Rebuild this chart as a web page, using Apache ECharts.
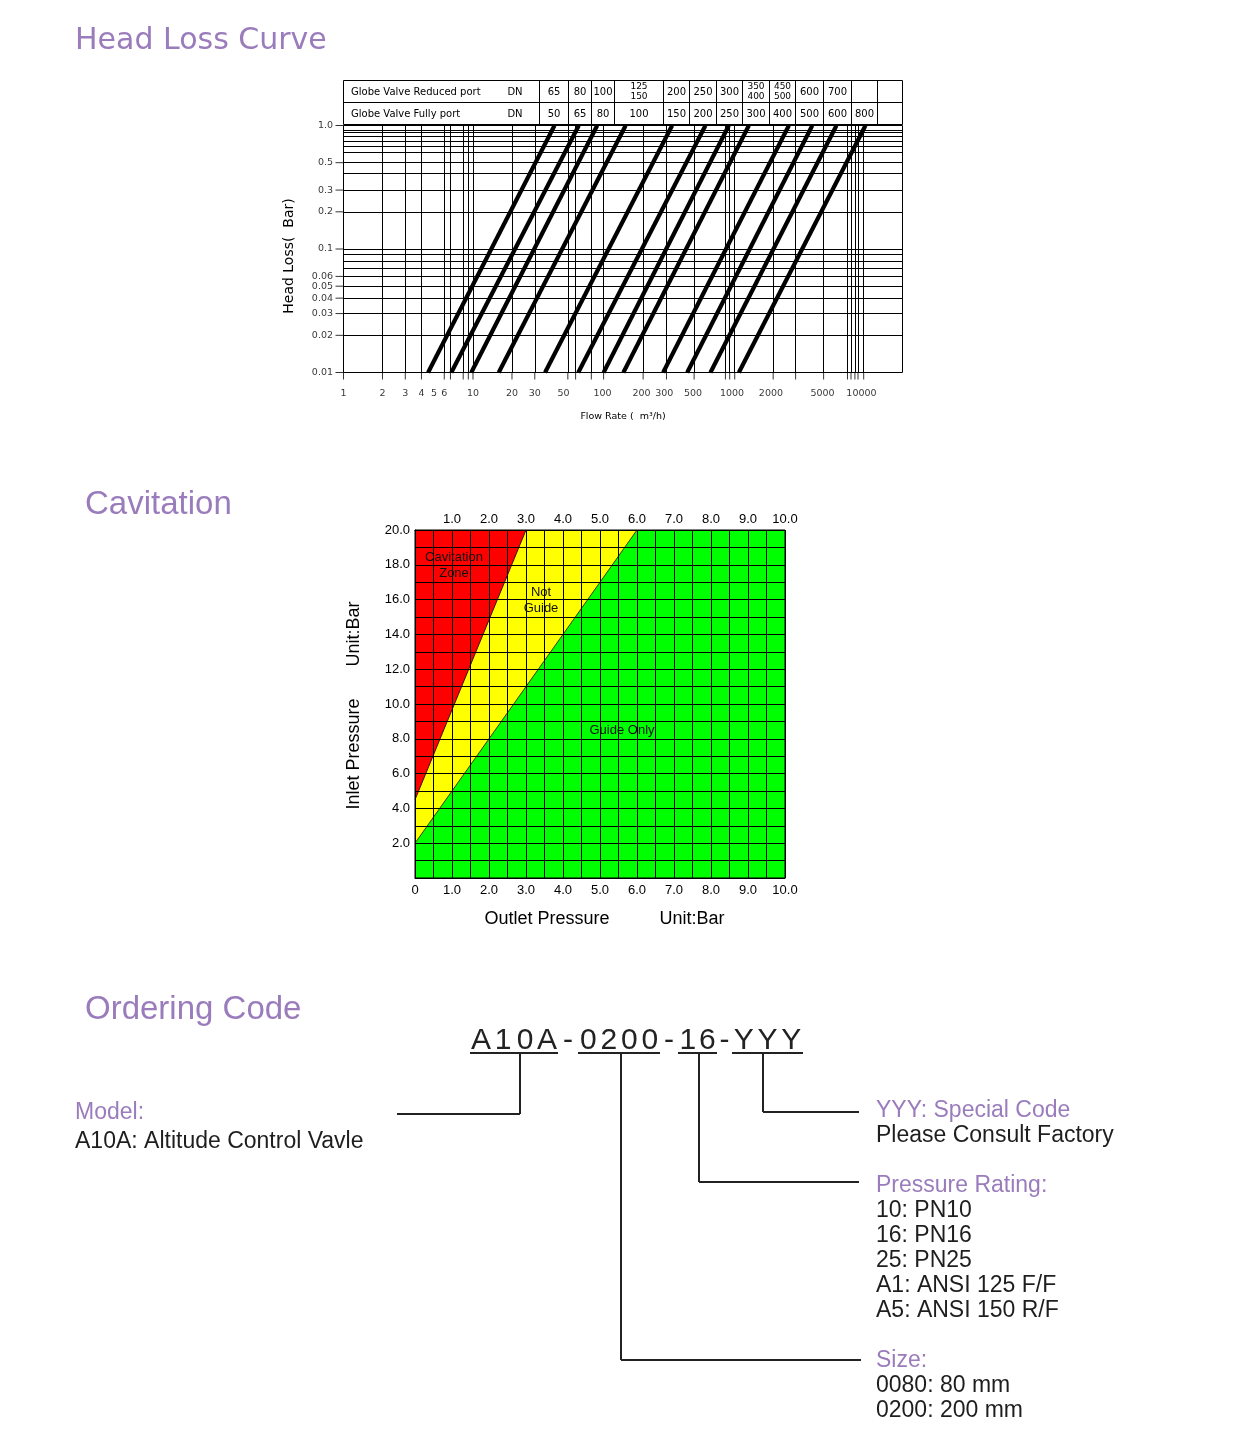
<!DOCTYPE html>
<html>
<head>
<meta charset="utf-8">
<title>Head Loss Curve / Cavitation / Ordering Code</title>
<script src="https://cdn.jsdelivr.net/npm/echarts@6/dist/echarts.min.js"></script>
<style>
  html, body { margin: 0; padding: 0; background: #fff; }
  #page { width: 1241px; height: 1448px; }
</style>
</head>
<body>
<div id="page"></div>
<script>
// ---------- head loss curve ----------
// flow (m3/h) where each valve line meets 0.01 bar and 1.0 bar
const lineFlowLow = [4.5, 6.8, 9.7, 15.8, 36, 65, 102, 145, 294, 451, 682, 1130];
const lineFlowHigh = [42.6, 65.6, 91, 151, 345, 624, 945, 1350, 2750, 4170, 6410, 10740];
const lossLow = 0.01;
const lossHigh = 1.0;

const flowTicks = [1, 2, 3, 4, 5, 6, 10, 20, 30, 50, 100, 200, 300, 500, 1000, 2000, 5000, 10000];
const flowTickLabels = ['1', '2', '3', '4', '5', '6', '10', '20', '30', '50', '100', '200', '300', '500', '1000', '2000', '5000', '10000'];
const lossTicks = [1, 0.5, 0.3, 0.2, 0.1, 0.06, 0.05, 0.04, 0.03, 0.02, 0.01];
const lossTickLabels = ['1.0', '0.5', '0.3', '0.2', '0.1', '0.06', '0.05', '0.04', '0.03', '0.02', '0.01'];

// grid lines as printed on the sheet
const flowGrid = [2, 3, 4, 6, 6.7, 8.4, 9.2, 10, 20, 30, 54, 62, 82, 102, 206, 312, 510, 890, 960, 1050, 2080, 3100, 5100, 7800, 8300, 8900, 9400, 10400];
const lossGrid = [0.92, 0.88, 0.82, 0.75, 0.68, 0.61, 0.5, 0.41, 0.3, 0.2, 0.1, 0.09, 0.083, 0.067, 0.06, 0.05, 0.04, 0.03, 0.02];

const reducedPortDN = ['65', '80', '100', '125\n150', '200', '250', '300', '350\n400', '450\n500', '600', '700', '', ''];
const fullPortDN = ['50', '65', '80', '100', '150', '200', '250', '300', '400', '500', '600', '800', ''];

// ---------- cavitation ----------
const cavitationEdge = [[0, 4.5], [3, 20]];
const notGuideEdge = [[0, 2], [6, 20]];

// ---------- ordering code ----------
const codeParts = ['A10A', '0200', '16', 'YYY'];
const modelLines = ['Model:', 'A10A: Altitude Control Vavle'];
const specialLines = ['YYY: Special Code', 'Please Consult Factory'];
const pressureLines = ['Pressure Rating:', '10: PN10', '16: PN16', '25: PN25', 'A1: ANSI 125 F/F', 'A5: ANSI 150 R/F'];
const sizeLines = ['Size:', '0080: 80 mm', '0200: 200 mm'];

const purple = '#9a7cbc';
const dark = '#1e1e1e';
const dejavu = 'DejaVu Sans, Verdana, sans-serif';
const arial = 'Liberation Sans, Arial, sans-serif';

const chart = echarts.init(document.getElementById('page'));

function txt(x, y, text, o) {
    o = o || {};
    return {
        type: 'text',
        x: x,
        y: y,
        z: 100,
        rotation: o.rotation || 0,
        silent: true,
        style: {
            text: text,
            fill: o.color || dark,
            font: (o.weight || 'normal') + ' ' + (o.size || 12) + 'px ' + (o.family || arial),
            align: o.align || 'left',
            verticalAlign: 'middle',
            lineHeight: o.lineHeight
        }
    };
}
let strokeColor = '#000';
function seg(x1, y1, x2, y2, w) {
    return {
        type: 'line',
        silent: true,
        z: 100,
        shape: { x1: x1, y1: y1, x2: x2, y2: y2 },
        style: { stroke: strokeColor, lineWidth: w || 1 }
    };
}

const graphics = [];

// section titles
graphics.push(txt(75, 41, 'Head Loss Curve', { size: 30, family: dejavu, color: purple }));
graphics.push(txt(85, 505, 'Cavitation', { size: 33, color: purple }));
graphics.push(txt(85, 1010, 'Ordering Code', { size: 33, color: purple }));

// DN table above the head loss chart
const tableCols = [539, 568, 591, 614, 663, 689, 716, 742, 769, 795, 823, 851, 877];
const tTop = 80.5, tMid = 102.5, tBot = 124.5, tLeft = 343.5, tRight = 902.5;
graphics.push({
    type: 'rect', silent: true, z: 100,
    shape: { x: tLeft, y: tTop, width: tRight - tLeft, height: tBot - tTop },
    style: { fill: null, stroke: '#000', lineWidth: 1 }
});
graphics.push(seg(tLeft, tMid, tRight, tMid));
tableCols.forEach(function (c) {
    graphics.push(seg(c + 0.5, tTop, c + 0.5, tBot));
});
graphics.push(txt(351, 92, 'Globe Valve Reduced port', { size: 10, family: dejavu, color: '#000' }));
graphics.push(txt(351, 114, 'Globe Valve Fully port', { size: 10, family: dejavu, color: '#000' }));
graphics.push(txt(515, 92, 'DN', { size: 10, family: dejavu, color: '#000', align: 'center' }));
graphics.push(txt(515, 114, 'DN', { size: 10, family: dejavu, color: '#000', align: 'center' }));
const colEdges = tableCols.concat([902]);
for (let i = 0; i < reducedPortDN.length; i++) {
    const cx = (colEdges[i] + colEdges[i + 1]) / 2 + 0.5;
    const two = reducedPortDN[i].indexOf('\n') >= 0;
    graphics.push(txt(cx, 92, reducedPortDN[i], {
        size: two ? 9 : 10, family: dejavu, color: '#000', align: 'center', lineHeight: 10
    }));
    graphics.push(txt(cx, 114, fullPortDN[i], { size: 10, family: dejavu, color: '#000', align: 'center' }));
}
// head loss axis titles
graphics.push(txt(289, 256, 'Head Loss(  Bar)', { size: 14, family: dejavu, color: '#000', align: 'center', rotation: Math.PI / 2 }));
graphics.push(txt(623, 417, 'Flow Rate (  m\u00b3/h)', { size: 9.5, family: dejavu, color: '#000', align: 'center' }));

// cavitation texts
graphics.push(txt(454, 565, 'Cavitation\nZone', { size: 13, color: '#111', align: 'center', lineHeight: 16 }));
graphics.push(txt(541, 600, 'Not\nGuide', { size: 13, color: '#111', align: 'center', lineHeight: 16 }));
graphics.push(txt(622, 730, 'Guide Only', { size: 13, color: '#111', align: 'center' }));
graphics.push(txt(354, 754, 'Inlet Pressure', { size: 18, color: '#000', align: 'center', rotation: Math.PI / 2 }));
graphics.push(txt(354, 634, 'Unit:Bar', { size: 18, color: '#000', align: 'center', rotation: Math.PI / 2 }));
graphics.push(txt(547, 919, 'Outlet Pressure', { size: 18, color: '#000', align: 'center' }));
graphics.push(txt(692, 919, 'Unit:Bar', { size: 18, color: '#000', align: 'center' }));

// ordering code string, characters spread like the print
strokeColor = '#222';
const partLeft = [470, 578, 678, 732];
const partRight = [558, 660, 717, 803];
const codeY = 1041, lineY = 1053;
codeParts.forEach(function (p, i) {
    const w = (partRight[i] - partLeft[i]) / p.length;
    for (let k = 0; k < p.length; k++) {
        graphics.push(txt(partLeft[i] + (k + 0.5) * w, codeY, p[k], { size: 30, color: '#222', align: 'center' }));
    }
    graphics.push(seg(partLeft[i], lineY, partRight[i], lineY, 2));
    if (i < codeParts.length - 1) {
        graphics.push(txt((partRight[i] + partLeft[i + 1]) / 2, codeY, '-', { size: 30, color: '#222', align: 'center' }));
    }
});
// connectors: down from each part, then across to its description
const connX = [520, 621, 699, 763];
const connY = [1114, 1360, 1182, 1112];
const connEnd = [397, 861, 859, 859];
connX.forEach(function (x, i) {
    graphics.push(seg(x, lineY, x, connY[i], 2));
    graphics.push(seg(x, connY[i], connEnd[i], connY[i], 2));
});
function block(x, y, lines) {
    lines.forEach(function (s, i) {
        graphics.push(txt(x, y + i * 25, s, { size: 23, color: i === 0 ? purple : dark }));
    });
}
graphics.push(txt(75, 1113, modelLines[0], { size: 23, color: purple }));
graphics.push(txt(75, 1142, modelLines[1], { size: 23, color: dark }));
block(876, 1111, specialLines);
block(876, 1186, pressureLines);
block(876, 1361, sizeLines);

// ---------- series ----------
const series = [];
lineFlowLow.forEach(function (q, i) {
    const s = {
        type: 'line',
        xAxisIndex: 0,
        yAxisIndex: 0,
        data: [[q, lossLow], [lineFlowHigh[i], lossHigh]],
        symbol: 'none',
        silent: true,
        lineStyle: { color: '#000', width: 4.2 },
        z: 3
    };
    if (i === 0) {
        s.markLine = {
            silent: true,
            symbol: ['none', 'none'],
            label: { show: false },
            lineStyle: { color: '#000', width: 1, type: 'solid' },
            emphasis: { disabled: true },
            data: flowGrid.map(function (v) { return { xAxis: v }; })
                .concat(lossGrid.map(function (v) { return { yAxis: v }; }))
        };
    }
    series.push(s);
});
// x ticks below the axis and their labels
series.push({
    type: 'scatter', xAxisIndex: 0, yAxisIndex: 0, silent: true, clip: false,
    data: [1].concat(flowGrid).map(function (v) { return [v, lossLow]; }),
    symbol: 'rect', symbolSize: [1, 7], symbolOffset: [0, 3.5],
    itemStyle: { color: '#000' }
});
series.push({
    type: 'scatter', xAxisIndex: 0, yAxisIndex: 0, silent: true, clip: false,
    data: flowTicks.map(function (v, i) { return { value: [v, lossLow], name: flowTickLabels[i] }; }),
    symbolSize: 1,
    itemStyle: { color: 'rgba(0,0,0,0)' },
    label: {
        show: true, position: 'bottom', distance: 16,
        formatter: '{b}', color: '#000', fontSize: 9.5, fontFamily: dejavu
    }
});
// y ticks left of the axis and their labels
series.push({
    type: 'scatter', xAxisIndex: 0, yAxisIndex: 0, silent: true, clip: false,
    data: lossTicks.map(function (v) { return [1, v]; }),
    symbol: 'rect', symbolSize: [8, 1], symbolOffset: [-4, 0],
    itemStyle: { color: '#000' }
});
series.push({
    type: 'scatter', xAxisIndex: 0, yAxisIndex: 0, silent: true, clip: false,
    data: lossTicks.map(function (v, i) { return { value: [1, v], name: lossTickLabels[i] }; }),
    symbolSize: 1,
    itemStyle: { color: 'rgba(0,0,0,0)' },
    label: {
        show: true, position: 'left', distance: 10,
        formatter: '{b}', color: '#000', fontSize: 9.5, fontFamily: dejavu
    }
});
// cavitation zones
series.push({
    type: 'line', xAxisIndex: 1, yAxisIndex: 1, silent: true,
    data: notGuideEdge, symbol: 'none',
    lineStyle: { color: '#3a3a10', width: 1 },
    areaStyle: { origin: 'end', color: '#ffff00', opacity: 1 },
    z: 2
});
series.push({
    type: 'line', xAxisIndex: 1, yAxisIndex: 1, silent: true,
    data: cavitationEdge, symbol: 'none',
    lineStyle: { color: '#3a1010', width: 1 },
    areaStyle: { origin: 'end', color: '#ff0000', opacity: 1 },
    z: 2
});

function cavX(v) { return v % 1 === 0 ? (v === 0 ? '0' : v.toFixed(1)) : ''; }
function cavXTop(v) { return v % 1 === 0 && v > 0 ? v.toFixed(1) : ''; }
function cavY(v) { return v % 2 === 0 && v > 0 ? v.toFixed(1) : ''; }
const cavLabel = { color: '#000', fontSize: 13, fontFamily: arial };

chart.setOption({
    backgroundColor: '#fff',
    animation: false,
    grid: [
        { left: 343.5, top: 125.5, width: 559, height: 247, show: true, borderColor: '#000', borderWidth: 1, backgroundColor: 'transparent' },
        { left: 415, top: 530, width: 370, height: 348, show: true, borderColor: '#000', borderWidth: 1, backgroundColor: '#00ff00' }
    ],
    xAxis: [
        {
            type: 'log', gridIndex: 0, logBase: 10, min: 1, max: 20740,
            axisLine: { show: false }, axisTick: { show: false }, axisLabel: { show: false }, splitLine: { show: false }
        },
        {
            type: 'value', gridIndex: 1, min: 0, max: 10, interval: 0.5, z: 10,
            axisLine: { show: true, lineStyle: { color: '#000' } }, axisTick: { show: false },
            axisLabel: Object.assign({ formatter: cavX, margin: 6 }, cavLabel),
            splitLine: { show: true, lineStyle: { color: '#000', width: 1 } }
        },
        {
            type: 'value', gridIndex: 1, position: 'top', min: 0, max: 10, interval: 0.5, z: 10,
            axisLine: { show: true, lineStyle: { color: '#000' } }, axisTick: { show: false },
            axisLabel: Object.assign({ formatter: cavXTop, margin: 4 }, cavLabel),
            splitLine: { show: false }
        }
    ],
    yAxis: [
        {
            type: 'log', gridIndex: 0, logBase: 10, min: 0.01, max: 1,
            axisLine: { show: false }, axisTick: { show: false }, axisLabel: { show: false }, splitLine: { show: false }
        },
        {
            type: 'value', gridIndex: 1, min: 0, max: 20, interval: 1, z: 10,
            axisLine: { show: true, lineStyle: { color: '#000' } }, axisTick: { show: false },
            axisLabel: Object.assign({ formatter: cavY, margin: 5 }, cavLabel),
            splitLine: { show: true, lineStyle: { color: '#000', width: 1 } }
        }
    ],
    graphic: graphics,
    series: series
});

window.addEventListener('resize', function () { chart.resize(); });
</script>
</body>
</html>
